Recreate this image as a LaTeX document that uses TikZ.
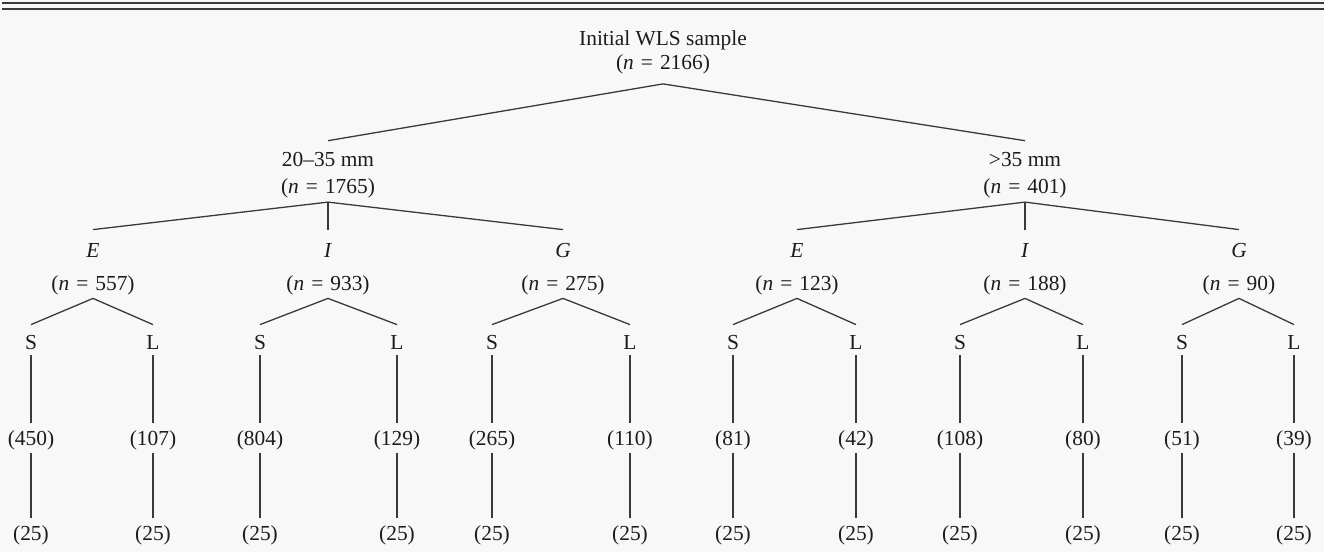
\documentclass[tikz,border=0pt]{standalone}
\usepackage{fontspec}
\setmainfont{Liberation Serif}
\definecolor{ink}{HTML}{1C1C1C}
\definecolor{rulegray}{HTML}{3A3A3A}
\definecolor{paper}{HTML}{F8F8F8}
% sample-size label, (n = ...)
\newcommand\ncount[1]{(\textit{n}\hspace{.33em}=\hspace{.33em}#1)}

\begin{document}
\begin{tikzpicture}[x=0.5pt,y=-0.5pt,
  lbl/.style={font=\fontsize{10.7}{12}\selectfont, text=ink, inner sep=0pt, anchor=base},
  % heights/depths set where each connector meets a label
  rootn/.style={lbl, text depth=7pt},
  splitT/.style={lbl, text height=12.8pt},
  splitN/.style={lbl, text depth=4.2pt},
  groupT/.style={lbl, text height=13.5pt},
  groupN/.style={lbl, text depth=4pt},
  sizeT/.style={lbl, text height=12pt, text depth=3pt},
  countT/.style={lbl, text height=11pt, text depth=4pt},
  finalT/.style={lbl, text height=11pt},
  link/.style={draw=rulegray, line width=0.65pt}]

\fill[paper] (0,0) rectangle (1324,552);
\useasboundingbox (0,0) rectangle (1324,552);

% double rule at the head
\draw[rulegray, line width=0.7pt] (2,3) -- (1324,3);
\draw[rulegray, line width=0.7pt] (2,9) -- (1324,9);

% root
\node[lbl]   (rootT) at (663,45)   {Initial WLS sample};
\node[rootn] (rootN) at (663,69.5) {\ncount{2166}};

% size classes
\node[splitT] (smallT) at (328,166.7)  {20--35 mm};
\node[splitN] (smallN) at (328,193.3)  {\ncount{1765}};
\node[splitT] (largeT) at (1025,166.7) {>35 mm};
\node[splitN] (largeN) at (1025,193.3) {\ncount{401}};

\draw[link] (rootN.south) -- (smallT.north);
\draw[link] (rootN.south) -- (largeT.north);

% groups E, I, G
\foreach \nm/\x/\g/\n in {e1/93/E/557, i1/328/I/933, g1/563/G/275,
                          e2/797/E/123, i2/1025/I/188, g2/1239/G/90}{
  \node[groupT] (\nm) at (\x,257) {\textit{\g}};
  \node[groupN] (\nm n) at (\x,290) {\ncount{\n}};
}

\draw[link] (smallN.south) -- (e1.north);
\draw[link] (smallN.south) -- (i1.north);
\draw[link] (smallN.south) -- (g1.north);
\draw[link] (largeN.south) -- (e2.north);
\draw[link] (largeN.south) -- (i2.north);
\draw[link] (largeN.south) -- (g2.north);

% S / L branches with their counts
\foreach \nm/\pn/\x/\lt/\c in {
    a/e1/31/S/450,  b/e1/153/L/107,
    c/i1/260/S/804, d/i1/397/L/129,
    e/g1/492/S/265, f/g1/630/L/110,
    g/e2/733/S/81,  h/e2/856/L/42,
    i/i2/960/S/108, j/i2/1083/L/80,
    k/g2/1182/S/51, l/g2/1294/L/39}{
  \node[sizeT]  (sz\nm) at (\x,349) {\lt};
  \node[countT] (ct\nm) at (\x,445) {(\c)};
  \node[finalT] (fn\nm) at (\x,540) {(25)};
  \draw[link] (\pn n.south) -- (sz\nm.north);
  \draw[link] (sz\nm.south) -- (ct\nm.north);
  \draw[link] (ct\nm.south) -- (fn\nm.north);
}
\end{tikzpicture}
\end{document}
